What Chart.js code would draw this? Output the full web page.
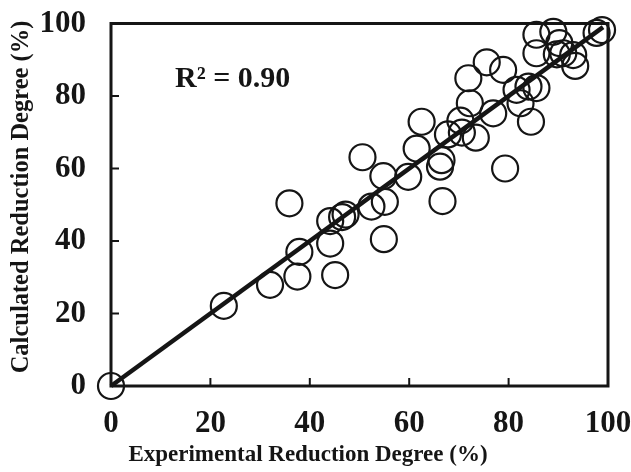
<!DOCTYPE html>
<html>
<head>
<meta charset="utf-8">
<script src="https://cdn.jsdelivr.net/npm/chart.js@4.4.1/dist/chart.umd.min.js"></script>
<style>
  html, body { margin: 0; padding: 0; background: #fff; }
  #wrap { width: 631px; height: 472px; }
</style>
</head>
<body>
<div id="wrap"><canvas id="myChart" width="631" height="472"></canvas></div>
<script>
'use strict';

// experimental vs calculated reduction degree (%)
const experimental = [
    0, 22.7, 32.0, 35.9, 37.5, 37.9, 44.1, 45.1, 44.1, 46.5,
    47.2, 50.6, 52.4, 54.8, 55.1, 54.9, 59.8, 61.5, 62.5, 66.2,
    66.5, 66.7, 67.8, 70.3, 70.6, 73.4, 72.2, 71.9, 75.6, 78.9,
    76.9, 79.3, 81.6, 82.4, 84.0, 85.6, 84.5, 85.6, 85.6, 89.0,
    90.2, 89.7, 91.0, 93.0, 93.4, 97.7, 98.8
];
const calculated = [
    0, 22.1, 27.9, 50.4, 30.2, 37.0, 39.3, 30.6, 45.5, 46.6,
    47.3, 63.1, 49.5, 57.9, 50.8, 40.5, 57.7, 65.5, 72.9, 60.5,
    62.3, 51.0, 69.4, 73.2, 69.9, 68.5, 78.0, 84.9, 89.3, 87.2,
    75.2, 60.0, 81.7, 78.0, 82.6, 82.2, 72.9, 96.9, 91.8, 97.7,
    94.6, 91.5, 91.8, 91.3, 88.3, 97.4, 98.2
];

// fitted line end points
const fitX = [0, 99];
const fitY = [0, 99];

const axisTicks = [0, 20, 40, 60, 80, 100];
const r2Label = 'R\u00B2 = 0.90';
const xTitle = 'Experimental Reduction Degree (%)';
const yTitle = 'Calculated Reduction Degree (%)';

const serif = "'Liberation Serif', 'Times New Roman', serif";
const ink = '#151515';

let points = experimental.map((x, i) => ({ x: x, y: calculated[i] }));
let fitLine = fitX.map((x, i) => ({ x: x, y: fitY[i] }));

// frame, inward tick marks, the R² note and the axis titles
const framePlugin = {
    id: 'frame',
    beforeDatasetsDraw(chart) {
        const { ctx, chartArea: a, scales } = chart;
        ctx.save();
        ctx.strokeStyle = ink;
        ctx.lineWidth = 2;
        axisTicks.slice(1, -1).forEach(v => {
            let px = scales.x.getPixelForValue(v);
            ctx.beginPath();
            ctx.moveTo(px, a.bottom);
            ctx.lineTo(px, a.bottom - 8);
            ctx.stroke();
            let py = scales.y.getPixelForValue(v);
            ctx.beginPath();
            ctx.moveTo(a.left, py);
            ctx.lineTo(a.left + 8, py);
            ctx.stroke();
        });
        ctx.lineWidth = 3;
        ctx.strokeRect(a.left, a.top, a.right - a.left, a.bottom - a.top);

        ctx.fillStyle = ink;
        ctx.font = "bold 30px " + serif;
        ctx.textAlign = 'left';
        ctx.textBaseline = 'middle';
        ctx.fillText(r2Label, scales.x.getPixelForValue(12.9), scales.y.getPixelForValue(84.5));

        // axis titles sit a little left of the plot centre in the original
        ctx.textAlign = 'center';
        ctx.font = "bold 23px " + serif;
        ctx.fillText(xTitle, 308, 455);
        ctx.translate(22, 197);
        ctx.rotate(-Math.PI / 2);
        ctx.font = "bold 24.5px " + serif;
        ctx.fillText(yTitle, 0, 0);
        ctx.restore();
    }
};

let ctx = document.getElementById('myChart').getContext('2d');
let myChart = new Chart(ctx, {
    type: 'scatter',
    data: {
        datasets: [
            {
                type: 'line',
                data: fitLine,
                borderColor: ink,
                borderWidth: 4.5,
                pointRadius: 0,
                fill: false,
                clip: false,
            }, {
                data: points,
                pointStyle: 'circle',
                pointRadius: 13,
                pointHoverRadius: 13,
                borderColor: ink,
                borderWidth: 2.2,
                backgroundColor: 'rgba(0,0,0,0)',
                clip: false,
            }
        ]
    },
    options: {
        responsive: false,
        animation: false,
        events: [],
        layout: { padding: { top: 23.5, right: 23, left: 0, bottom: 0 } },
        plugins: {
            legend: { display: false },
            tooltip: { enabled: false },
        },
        scales: {
            x: {
                type: 'linear',
                min: 0,
                max: 100,
                afterFit: s => {
                    s.height = 86;
                    s.paddingLeft = 0;
                    s.paddingRight = 0;
                },
                afterBuildTicks: s => { s.ticks = axisTicks.map(v => ({ value: v })); },
                grid: { display: false, drawTicks: false },
                border: { display: false },
                ticks: {
                    padding: 19,
                    color: ink,
                    font: { family: serif, size: 31, weight: 'bold' },
                    maxRotation: 0,
                },
                title: { display: false },
            },
            y: {
                type: 'linear',
                min: 0,
                max: 100,
                afterFit: s => {
                    s.width = 111;
                    s.paddingTop = 0;
                    s.paddingBottom = 0;
                },
                afterBuildTicks: s => { s.ticks = axisTicks.map(v => ({ value: v })); },
                grid: { display: false, drawTicks: false },
                border: { display: false },
                ticks: {
                    padding: 25,
                    color: ink,
                    font: { family: serif, size: 31, weight: 'bold' },
                },
                title: { display: false },
            }
        }
    },
    plugins: [framePlugin],
});
</script>
</body>
</html>
